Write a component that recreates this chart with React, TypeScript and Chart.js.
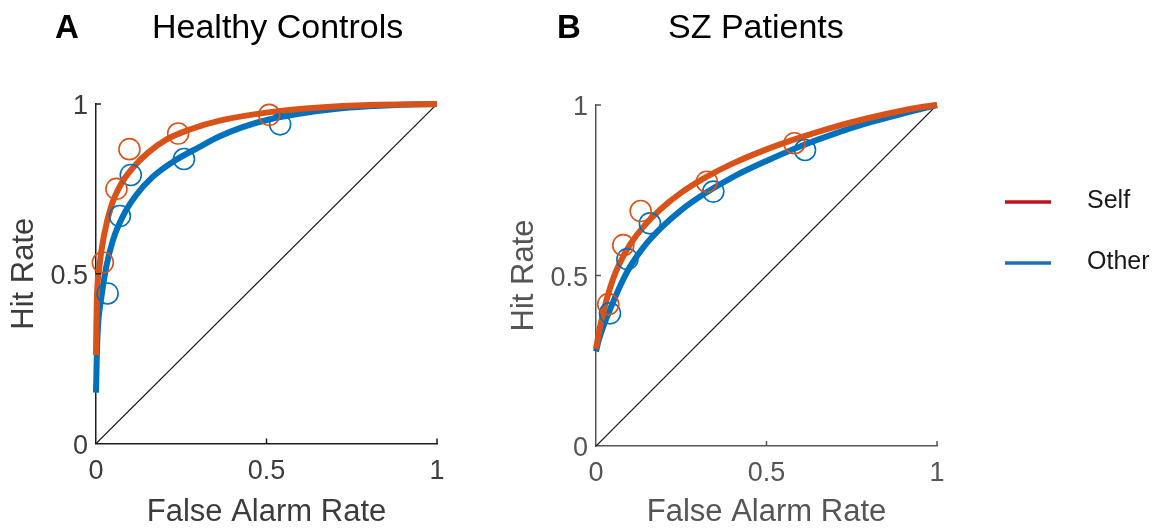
import React, { useEffect, useRef } from 'react';
import { Chart, registerables } from 'chart.js';

Chart.register(...registerables);

// Shared axis ticks (both axes run 0..1)
const AXIS_TICKS = [0, 0.5, 1];
const AXIS_TICK_LABELS = ['0', '0.5', '1'];

const SERIES_NAMES = ['Self', 'Other'];
const X_TITLE = 'False Alarm Rate';
const Y_TITLE = 'Hit Rate';

// Chance line
const chanceLine = [[0, 0], [1, 1]];

// Healthy controls: observed (false alarm, hit) points per confidence criterion
const hcSelfObserved = [[0.02, 0.533], [0.06, 0.75], [0.098, 0.867], [0.241, 0.913], [0.508, 0.968]];
const hcOtherObserved = [[0.034, 0.442], [0.07, 0.67], [0.102, 0.791], [0.258, 0.838], [0.54, 0.94]];

// Healthy controls: fitted ROC curves
const hcSelfFit = [
  [0, 0.26], [0.002, 0.4], [0.01, 0.52], [0.025, 0.62], [0.045, 0.7], [0.074, 0.765],
  [0.108, 0.812], [0.152, 0.856], [0.206, 0.895], [0.275, 0.925], [0.363, 0.951],
  [0.51, 0.976], [0.657, 0.99], [0.804, 0.997], [1, 1],
];
const hcOtherFit = [
  [0, 0.15], [0.002, 0.24], [0.005, 0.33], [0.015, 0.425], [0.03, 0.52], [0.05, 0.6],
  [0.079, 0.67], [0.118, 0.732], [0.167, 0.786], [0.226, 0.83], [0.304, 0.874],
  [0.363, 0.905], [0.43, 0.932], [0.51, 0.955], [0.6, 0.972], [0.7, 0.985],
  [0.8, 0.993], [0.9, 0.998], [1, 1],
];

// SZ patients: observed points
const szSelfObserved = [[0.036, 0.416], [0.08, 0.589], [0.131, 0.689], [0.325, 0.775], [0.582, 0.888]];
const szOtherObserved = [[0.041, 0.389], [0.092, 0.548], [0.158, 0.653], [0.344, 0.746], [0.613, 0.868]];

// SZ patients: fitted ROC curves
const szSelfFit = [
  [0, 0.285], [0.012, 0.35], [0.03, 0.425], [0.05, 0.49], [0.07, 0.537], [0.1, 0.591],
  [0.14, 0.644], [0.19, 0.695], [0.25, 0.743], [0.32, 0.787], [0.4, 0.828], [0.5, 0.87],
  [0.6, 0.905], [0.7, 0.936], [0.8, 0.962], [0.9, 0.984], [0.96, 0.995], [1, 1],
];
const szOtherFit = [
  [0, 0.277], [0.008, 0.31], [0.021, 0.35], [0.041, 0.4], [0.07, 0.468], [0.1, 0.526],
  [0.14, 0.584], [0.19, 0.639], [0.25, 0.692], [0.32, 0.741], [0.4, 0.788], [0.5, 0.836],
  [0.6, 0.879], [0.7, 0.916], [0.8, 0.948], [0.9, 0.975], [0.96, 0.99], [1, 1],
];

const FONT = "'Liberation Sans', Arial, Helvetica, sans-serif";
const SELF_COLOR = '#d95319';
const OTHER_COLOR = '#0072bd';
const SELF_KEY_COLOR = '#c0141c';
const OTHER_KEY_COLOR = '#1f6fb8';
const CANVAS_H = 531;

const toXY = (arr: number[][]) => arr.map(([x, y]) => ({ x, y }));

interface PanelSpec {
  letter: string;
  title: string;
  selfFit: number[][];
  otherFit: number[][];
  selfObs: number[][];
  otherObs: number[][];
  left: number;
  width: number;
  padRight: number;
  padTop: number;
  xAxisHeight: number;
  xTickPad: number;
  axisColor: string;
  textColor: string;
  letterX: number;
  titleX: number;
  legend: boolean;
}

// Short MATLAB-style tick marks pointing into the plot
const inwardTicks = {
  id: 'inwardTicks',
  afterDatasetsDraw(chart: any, _args: any, opts: any) {
    const { ctx, chartArea: ca, scales } = chart;
    ctx.save();
    ctx.strokeStyle = opts.color;
    ctx.lineWidth = 1.5;
    ctx.beginPath();
    for (const v of AXIS_TICKS) {
      if (v === 0) continue;
      const px = scales.x.getPixelForValue(v);
      ctx.moveTo(px, ca.bottom);
      ctx.lineTo(px, ca.bottom - 5);
      const py = scales.y.getPixelForValue(v);
      ctx.moveTo(ca.left, py);
      ctx.lineTo(ca.left + 5, py);
    }
    ctx.stroke();
    ctx.restore();
  },
};

// Panel letter and heading
const panelHeader = {
  id: 'panelHeader',
  afterDraw(chart: any, _args: any, opts: any) {
    const { ctx } = chart;
    ctx.save();
    ctx.fillStyle = '#000';
    ctx.textBaseline = 'alphabetic';
    ctx.textAlign = 'left';
    ctx.font = `bold 33px ${FONT}`;
    ctx.fillText(opts.letter, opts.letterX, 38);
    ctx.font = `34px ${FONT}`;
    ctx.fillText(opts.title, opts.titleX, 38);
    ctx.restore();
  },
};

// Series key at the right of the figure
const seriesKey = {
  id: 'seriesKey',
  afterDraw(chart: any, _args: any, opts: any) {
    if (!opts.show) return;
    const { ctx } = chart;
    const rows = [
      { label: SERIES_NAMES[0], color: SELF_KEY_COLOR, y: 202 },
      { label: SERIES_NAMES[1], color: OTHER_KEY_COLOR, y: 263 },
    ];
    ctx.save();
    ctx.font = `25px ${FONT}`;
    ctx.textBaseline = 'middle';
    ctx.textAlign = 'left';
    for (const r of rows) {
      ctx.strokeStyle = r.color;
      ctx.lineWidth = 3.5;
      ctx.beginPath();
      ctx.moveTo(505, r.y);
      ctx.lineTo(551, r.y);
      ctx.stroke();
      ctx.fillStyle = '#1a1a1a';
      ctx.fillText(r.label, 587, r.y - 1);
    }
    ctx.restore();
  },
};

function buildConfig(p: PanelSpec): any {
  const tickFont = { family: FONT, size: 27 };
  const titleFont = { family: FONT, size: 31 };
  const setTicks = (scale: any) => {
    scale.ticks = AXIS_TICKS.map((v) => ({ value: v }));
  };
  const fitLine = (data: number[][], color: string) => ({
    data: toXY(data),
    showLine: true,
    borderColor: color,
    borderWidth: 6,
    pointRadius: 0,
    pointHoverRadius: 0,
    cubicInterpolationMode: 'monotone',
    fill: false,
    clip: false,
  });
  const markers = (data: number[][], color: string) => ({
    data: toXY(data),
    showLine: false,
    pointStyle: 'circle',
    pointRadius: 10.5,
    pointHoverRadius: 10.5,
    pointBorderWidth: 1.6,
    pointBorderColor: color,
    pointBackgroundColor: 'rgba(0,0,0,0)',
    clip: false,
  });
  return {
    type: 'scatter',
    data: {
      datasets: [
        markers(p.selfObs, SELF_COLOR),
        markers(p.otherObs, OTHER_COLOR),
        fitLine(p.selfFit, SELF_COLOR),
        fitLine(p.otherFit, OTHER_COLOR),
        {
          data: toXY(chanceLine),
          showLine: true,
          borderColor: '#111',
          borderWidth: 1.2,
          pointRadius: 0,
          pointHoverRadius: 0,
        },
      ],
    },
    options: {
      responsive: false,
      animation: false,
      devicePixelRatio: 1,
      events: [],
      layout: { padding: { left: 0, right: p.padRight, top: p.padTop, bottom: 0 } },
      plugins: {
        legend: { display: false },
        tooltip: { enabled: false },
        inwardTicks: { color: p.axisColor },
        panelHeader: { letter: p.letter, title: p.title, letterX: p.letterX, titleX: p.titleX },
        seriesKey: { show: p.legend },
      },
      scales: {
        x: {
          type: 'linear',
          min: 0,
          max: 1,
          afterBuildTicks: setTicks,
          afterFit: (s: any) => { s.height = p.xAxisHeight; },
          grid: { display: false, drawTicks: false },
          border: { display: true, color: p.axisColor, width: 1.5 },
          ticks: {
            color: p.textColor,
            font: tickFont,
            padding: p.xTickPad,
            maxRotation: 0,
            autoSkip: false,
            callback: (_v: any, i: number) => AXIS_TICK_LABELS[i],
          },
          title: {
            display: true,
            text: X_TITLE,
            color: p.textColor,
            font: titleFont,
            padding: { top: 0, bottom: 0 },
          },
        },
        y: {
          type: 'linear',
          min: 0,
          max: 1,
          afterBuildTicks: setTicks,
          afterFit: (s: any) => { s.width = 96; },
          grid: { display: false, drawTicks: false },
          border: { display: true, color: p.axisColor, width: 1.5 },
          ticks: {
            color: p.textColor,
            font: tickFont,
            padding: 8,
            labelOffset: 3,
            autoSkip: false,
            callback: (_v: any, i: number) => AXIS_TICK_LABELS[i],
          },
          title: {
            display: true,
            text: Y_TITLE,
            color: p.textColor,
            font: titleFont,
            padding: { top: 6, bottom: 0 },
          },
        },
      },
    },
    plugins: [inwardTicks, panelHeader, seriesKey],
  };
}

const PANELS: PanelSpec[] = [
  {
    letter: 'A',
    title: 'Healthy Controls',
    selfFit: hcSelfFit,
    otherFit: hcOtherFit,
    selfObs: hcSelfObserved,
    otherObs: hcOtherObserved,
    left: 0,
    width: 480,
    padRight: 43,
    padTop: 104,
    xAxisHeight: 87.5,
    xTickPad: 12,
    axisColor: '#1e1e1e',
    textColor: '#3c3c3c',
    letterX: 55,
    titleX: 152,
    legend: false,
  },
  {
    letter: 'B',
    title: 'SZ Patients',
    selfFit: szSelfFit,
    otherFit: szOtherFit,
    selfObs: szSelfObserved,
    otherObs: szOtherObserved,
    left: 500,
    width: 654,
    padRight: 217,
    padTop: 105,
    xAxisHeight: 85,
    xTickPad: 11,
    axisColor: '#555555',
    textColor: '#555555',
    letterX: 57,
    titleX: 168,
    legend: true,
  },
];

function RocPanel({ spec }: { spec: PanelSpec }) {
  const ref = useRef<HTMLCanvasElement>(null);
  useEffect(() => {
    const chart = new Chart(ref.current as HTMLCanvasElement, buildConfig(spec));
    return () => chart.destroy();
  }, [spec]);
  return (
    <canvas
      ref={ref}
      width={spec.width}
      height={CANVAS_H}
      style={{ position: 'absolute', left: spec.left, top: 0, width: spec.width, height: CANVAS_H }}
    />
  );
}

export default function App() {
  return (
    <div style={{ position: 'absolute', left: 0, top: 0, width: 1154, height: CANVAS_H, background: '#fff', overflow: 'hidden' }}>
      {PANELS.map((p) => (
        <RocPanel key={p.letter} spec={p} />
      ))}
    </div>
  );
}
